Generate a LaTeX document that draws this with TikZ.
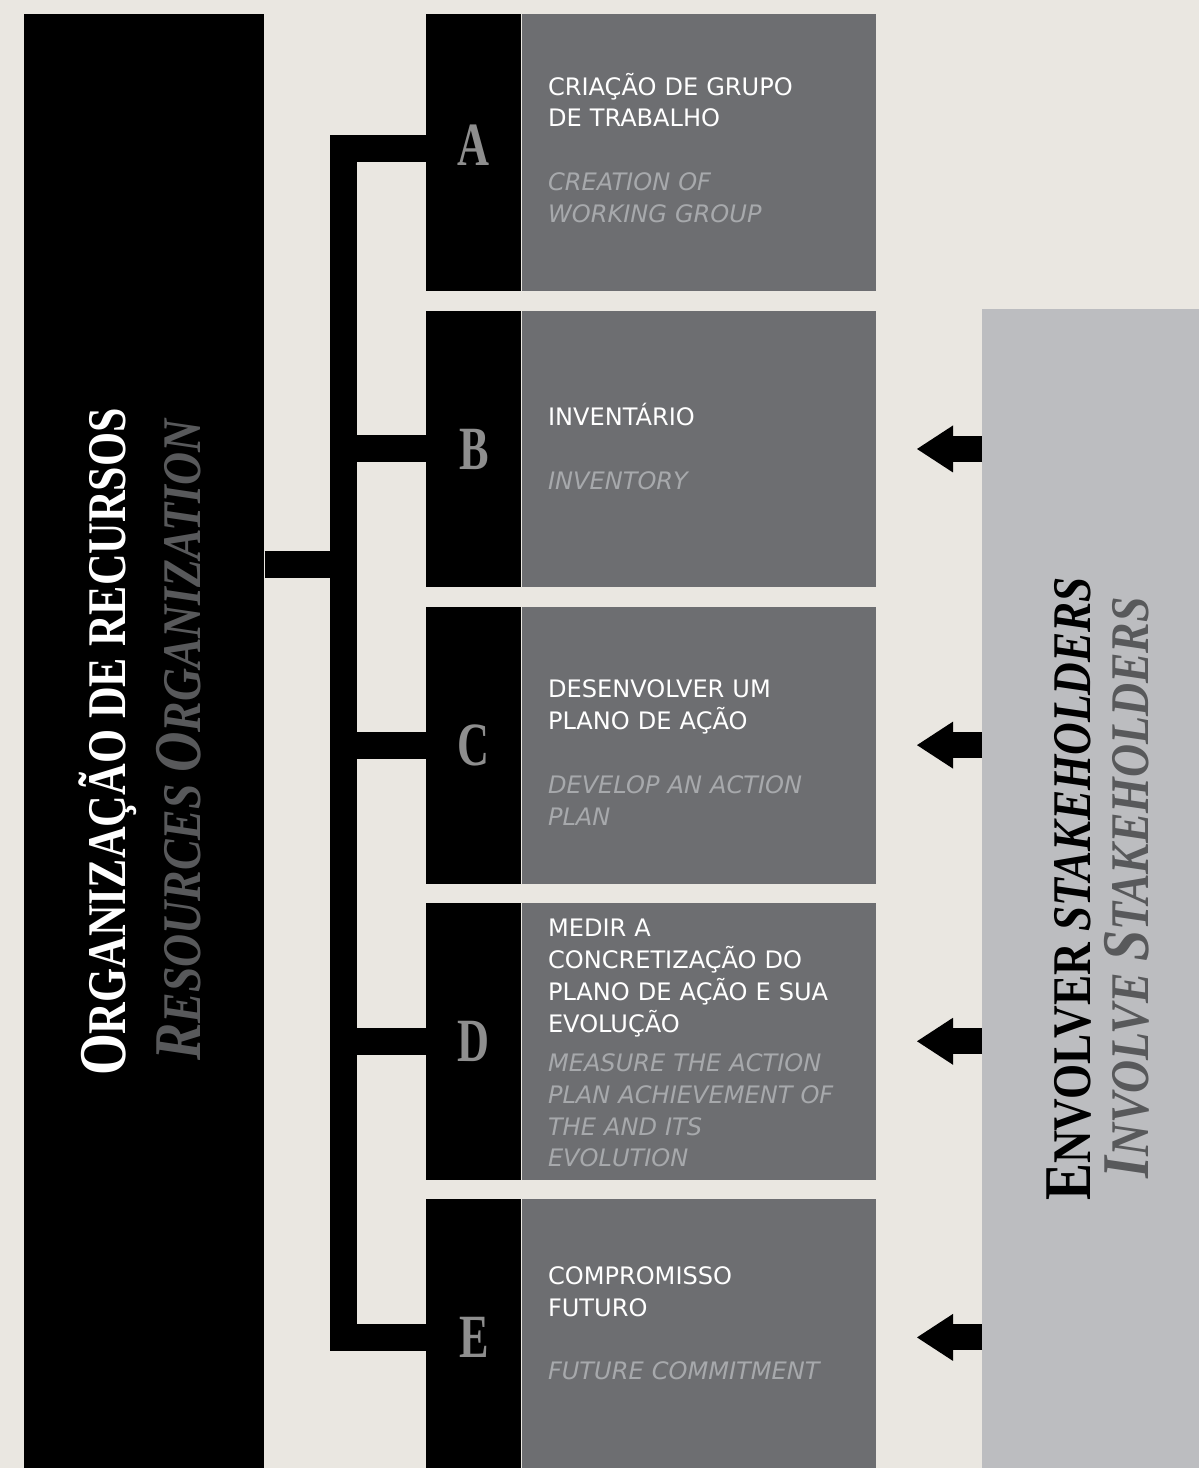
\documentclass[tikz,border=0pt]{standalone}
\usepackage{fontspec}
\setmainfont{Liberation Serif}
\setsansfont{DejaVu Sans}
\usetikzlibrary{positioning,arrows.meta}

\definecolor{paper}{HTML}{EAE7E1}
\definecolor{slate}{HTML}{6D6E71}
\definecolor{panel}{HTML}{BCBDC0}
\definecolor{engl}{HTML}{A7A9AC}
\definecolor{letter}{HTML}{8E8E8E}
\definecolor{subtitle}{HTML}{58595B}

\newcommand\initcap[1]{{\fontsize{38}{38}\selectfont #1}}
\newcommand\capsize{\fontsize{31}{31}\selectfont}

\tikzset{
  letterbox/.style={fill=black, minimum width=1.9cm, minimum height=5.54cm, inner sep=0pt,
    text=letter, font=\bfseries\fontsize{35}{35}\selectfont},
  stepbox/.style={fill=slate, minimum width=7.08cm, minimum height=5.54cm, inner sep=0pt},
  steptext/.style={anchor=west, xshift=0.52cm, text width=6.2cm, align=left, inner sep=0pt,
    text=white, font=\sffamily\fontsize{13.7}{18.14}\selectfont},
  bus/.style={line width=0.54cm, line join=miter},
  feed/.style={line width=0.52cm, -{Triangle[length=0.72cm, width=0.94cm, line width=0pt]}},
  title/.style={rotate=90, anchor=base, inner sep=0pt},
}

\begin{document}
\begin{tikzpicture}[x=0.02cm, y=-0.02cm]
	\useasboundingbox (0,0) rectangle (1199,1468);
	\fill[paper] (0,0) rectangle (1199,1468);

	% left bar
	\node[fill=black, minimum width=4.8cm, minimum height=29.2cm, inner sep=0pt, anchor=north west] (org) at (24,14) {};
	\node[title, text=white] (orgpt) at (125,742)
		{\scalebox{0.805}[1]{\bfseries\capsize\initcap{O}RGANIZAÇÃO DE RECURSOS}};
	\node[title, text=subtitle] (orgen) at (200,740)
		{\scalebox{0.84}[1]{\bfseries\itshape\capsize\initcap{R}ESOURCES \initcap{O}RGANIZATION}};

	% steps
	\node[letterbox, anchor=north west] (A) at (426,14) {\raisebox{0.16cm}[\height][\depth]{\scalebox{0.72}[1]{A}}};
	\node[letterbox, below=0.37cm of A] (B) {\scalebox{0.72}[1]{B}};
	\node[letterbox, below=0.37cm of B] (C) {\scalebox{0.72}[1]{C}};
	\node[letterbox, below=0.37cm of C] (D) {\scalebox{0.72}[1]{D}};
	\node[letterbox, below=0.37cm of D] (E) {\scalebox{0.72}[1]{E}};

	\node[stepbox, right=0pt of A] (gA) {};
	\node[stepbox, right=0pt of B] (gB) {};
	\node[stepbox, right=0pt of C] (gC) {};
	\node[stepbox, right=0pt of D] (gD) {};
	\node[stepbox, right=0pt of E] (gE) {};

	\node[steptext, yshift=0.1cm] (tA) at (gA.west)
		{CRIAÇÃO DE GRUPO\\DE TRABALHO\\[18.14pt]
		{\color{engl}\itshape CREATION OF\\WORKING GROUP}};
	\node[steptext, yshift=0.05cm] (tB) at (gB.west)
		{INVENTÁRIO\\[18.14pt]
		{\color{engl}\itshape INVENTORY}};
	\node[steptext, yshift=-0.15cm] (tC) at (gC.west)
		{DESENVOLVER UM\\PLANO DE AÇÃO\\[18.14pt]
		{\color{engl}\itshape DEVELOP AN ACTION\\PLAN}};
	\node[steptext, yshift=-0.04cm] (tD) at (gD.west)
		{MEDIR A\\CONCRETIZAÇÃO DO\\PLANO DE AÇÃO E SUA\\EVOLUÇÃO\\[4pt]
		{\color{engl}\itshape MEASURE THE ACTION\\PLAN ACHIEVEMENT OF\\THE AND ITS\\EVOLUTION}};
	\node[steptext, yshift=0.28cm] (tE) at (gE.west)
		{COMPROMISSO\\FUTURO\\[18.14pt]
		{\color{engl}\itshape FUTURE COMMITMENT}};

	% right panel
	\node[fill=panel, minimum width=4.4cm, minimum height=23.3cm, inner sep=0pt, anchor=north west] (stake) at (982,309) {};
	\node[title, text=black] (stakept) at (1090,889)
		{\scalebox{0.83}[1]{\bfseries\capsize\initcap{E}NVOLVER \itshape STAKEHOLDERS}};
	\node[title, text=subtitle] (stakeen) at (1148,888)
		{\scalebox{0.84}[1]{\bfseries\itshape\capsize\initcap{I}NVOLVE \initcap{S}TAKEHOLDERS}};

	% connectors
	\coordinate (hub) at (343,564);
	\draw[bus] (A.west) ++(0,-4) -| (hub |- E.west) -- (E.west);
	\draw[bus] (org.east |- hub) -- (hub);
	\foreach \s in {B,C,D}
		\draw[bus] (hub |- \s.west) -- (\s.west);

	\foreach \s in {B,C,D,E}
		\draw[feed] (stake.west |- \s.east) -- ++(-65,0);
\end{tikzpicture}
\end{document}
